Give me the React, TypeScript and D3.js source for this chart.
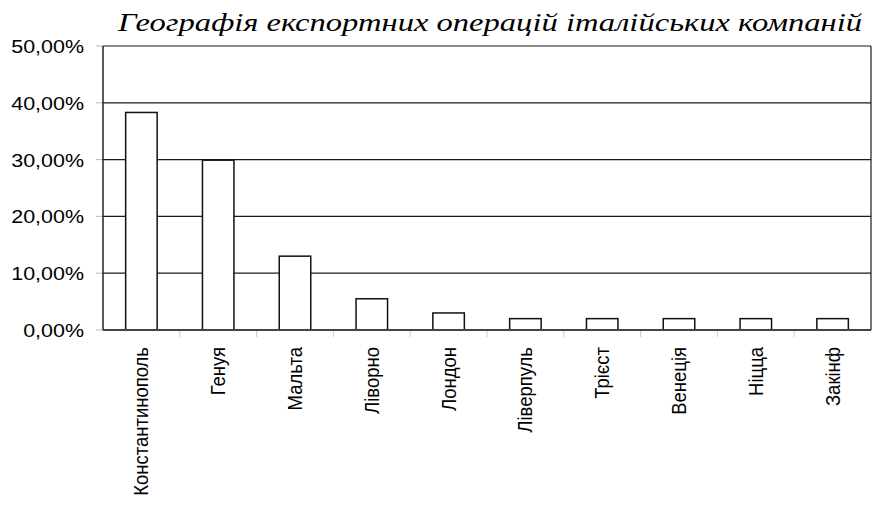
import React, { useEffect, useRef } from "react";
import * as d3 from "d3";

const title = "Географія експортних операцій італійських компаній";
const categories = [
  "Константинополь",
  "Генуя",
  "Мальта",
  "Ліворно",
  "Лондон",
  "Ліверпуль",
  "Трієст",
  "Венеція",
  "Ніцца",
  "Закінф",
];
const values = [38.3, 29.9, 13.0, 5.5, 3.0, 2.0, 2.0, 2.0, 2.0, 2.0];
const yTicks = [0, 10, 20, 30, 40, 50];

const W = 874;
const H = 510;
const M = { left: 103, right: 871, top: 46, bottom: 330 };
const SX = 1.13;

export default function App() {
  const ref = useRef<SVGSVGElement | null>(null);

  useEffect(() => {
    const svg = d3.select(ref.current);
    svg.selectAll("*").remove();

    const x = d3.scaleBand<string>().domain(categories).range([M.left, M.right]).padding(0);
    const y = d3.scaleLinear().domain([0, 50]).range([M.bottom, M.top]);
    const barW = x.bandwidth() * 0.41;
    const fmt = (v: number) => v.toFixed(2).replace(".", ",") + "%";

    svg
      .append("g")
      .selectAll("line")
      .data(yTicks.filter((t) => t > 0))
      .join("line")
      .attr("x1", M.left)
      .attr("x2", M.right)
      .attr("y1", (d) => y(d))
      .attr("y2", (d) => y(d))
      .attr("stroke", "#1a1a1a")
      .attr("stroke-width", 1.2);

    svg
      .append("g")
      .selectAll("line")
      .data(yTicks)
      .join("line")
      .attr("x1", M.left - 7)
      .attr("x2", M.left)
      .attr("y1", (d) => y(d))
      .attr("y2", (d) => y(d))
      .attr("stroke", "#bbb")
      .attr("stroke-width", 1);

    svg
      .append("line")
      .attr("x1", M.right)
      .attr("x2", M.right)
      .attr("y1", M.top)
      .attr("y2", M.bottom)
      .attr("stroke", "#1a1a1a")
      .attr("stroke-width", 1.2);

    svg
      .append("g")
      .selectAll("line")
      .data(categories.slice(1))
      .join("line")
      .attr("x1", (d) => x(d)!)
      .attr("x2", (d) => x(d)!)
      .attr("y1", M.bottom)
      .attr("y2", M.bottom + 7)
      .attr("stroke", "#ccc")
      .attr("stroke-width", 1);

    svg
      .append("g")
      .selectAll("rect")
      .data(values)
      .join("rect")
      .attr("x", (_, i) => x(categories[i])! + x.bandwidth() / 2 - barW / 2)
      .attr("y", (d) => y(d))
      .attr("width", barW)
      .attr("height", (d) => M.bottom - y(d))
      .attr("fill", "#fff")
      .attr("stroke", "#111")
      .attr("stroke-width", 1.5);

    svg
      .append("line")
      .attr("x1", M.left)
      .attr("x2", M.left)
      .attr("y1", M.top)
      .attr("y2", M.bottom)
      .attr("stroke", "#222")
      .attr("stroke-width", 1.5);
    svg
      .append("line")
      .attr("x1", M.left)
      .attr("x2", M.right)
      .attr("y1", M.bottom)
      .attr("y2", M.bottom)
      .attr("stroke", "#444")
      .attr("stroke-width", 2);

    svg
      .append("g")
      .selectAll("text")
      .data(yTicks)
      .join("text")
      .attr("transform", (d) => `translate(84,${y(d) + 7}) scale(${SX},1)`)
      .attr("text-anchor", "end")
      .attr("font-family", "Liberation Sans, Arial, sans-serif")
      .attr("font-size", 19)
      .attr("fill", "#000")
      .text((d) => fmt(d));

    svg
      .append("g")
      .selectAll("text")
      .data(categories)
      .join("text")
      .attr(
        "transform",
        (d) => `translate(${x(d)! + x.bandwidth() / 2 + 7},${M.bottom + 17}) scale(${SX},1) rotate(-90)`
      )
      .attr("text-anchor", "end")
      .attr("font-family", "Liberation Sans, Arial, sans-serif")
      .attr("font-size", 18.5)
      .attr("fill", "#000")
      .text((d) => d);

    svg
      .append("text")
      .attr("x", 118)
      .attr("y", 31)
      .attr("textLength", 744)
      .attr("lengthAdjust", "spacingAndGlyphs")
      .attr("font-family", "Liberation Serif, Times New Roman, serif")
      .attr("font-style", "italic")
      .attr("font-size", 25)
      .attr("fill", "#000")
      .text(title);
  }, []);

  return (
    <svg
      ref={ref}
      width={W}
      height={H}
      style={{ position: "absolute", left: 0, top: 0, background: "#fff" }}
    />
  );
}
